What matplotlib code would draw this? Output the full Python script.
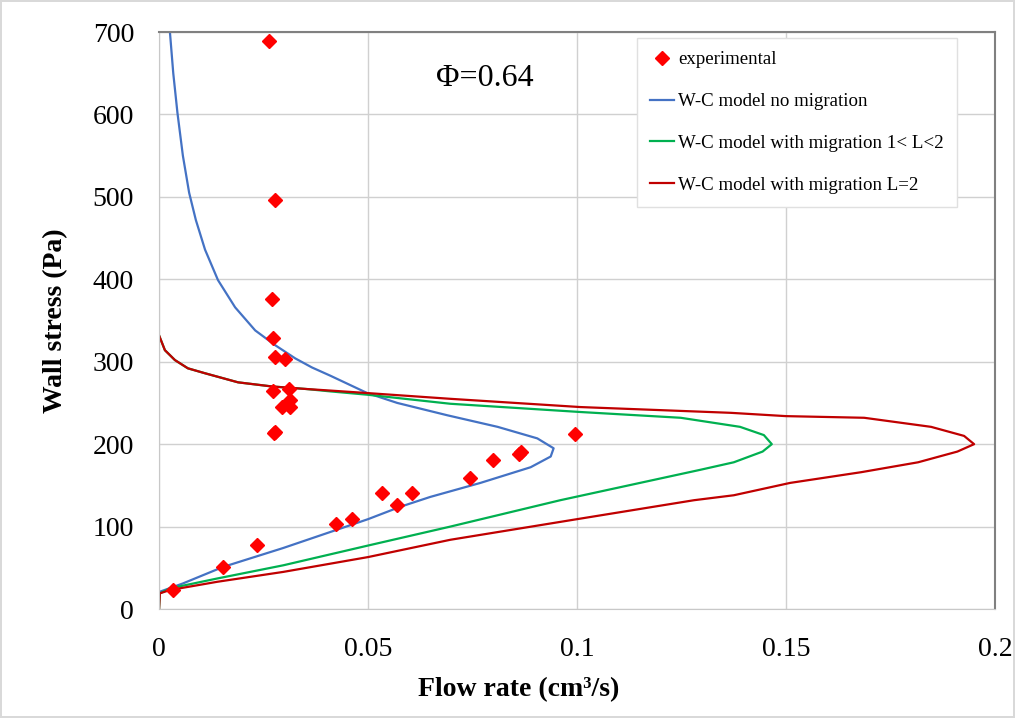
#! /usr/bin/python
#import libraries
from matplotlib import pyplot as plt
import numpy as np

#experimental points (flow rate cm3/s, wall stress Pa)
exp_q = [0.0263, 0.0278, 0.0271, 0.0273, 0.0278, 0.0302, 0.0273, 0.0311, 0.0314, 0.0295, 0.0314,
         0.0274, 0.0278, 0.0994, 0.0862, 0.0866, 0.0798, 0.0745, 0.0534, 0.0604, 0.0570, 0.0424,
         0.0462, 0.0235, 0.0153, 0.0034]
exp_tau = [689, 496, 376, 329, 306, 303, 265, 267, 254, 245, 245,
           214, 215, 212, 188, 190, 181, 159, 141, 141, 126, 103,
           109, 78, 51, 23]

#W-C model no migration
blue_q = [0.0026, 0.0034, 0.0044, 0.0057, 0.0072, 0.0088, 0.0110, 0.0141, 0.0182, 0.0230, 0.0278,
          0.0326, 0.0366, 0.0410, 0.0498, 0.0570, 0.0690, 0.0810, 0.0905, 0.0944, 0.0937, 0.0889,
          0.0769, 0.0649, 0.0577, 0.0500, 0.0297, 0.0153, 0.0057, 0.0002]
blue_tau = [700, 650, 602, 550, 505, 472, 436, 399, 366, 338, 320,
            304, 293, 283, 262, 250, 235, 221, 207, 195, 185, 172,
            153, 136, 124, 109, 74, 51, 31, 21]

#W-C model with migration 1<L<2
green_q = [0.0, 0.0014, 0.0038, 0.0069, 0.0110, 0.0189, 0.0270, 0.0350, 0.0410, 0.0498, 0.0697,
           0.1008, 0.1248, 0.1390, 0.1447, 0.1466, 0.1444, 0.1375, 0.1296, 0.0960, 0.0697, 0.0500,
           0.0297, 0.0139, 0.0026, 0.0002, 0.0]
green_tau = [332, 314, 302, 292, 286, 275, 270, 267, 264, 260, 249,
             239, 232, 221, 211, 200, 191, 178, 169, 132, 100, 77,
             53, 37, 25, 19, 0]

#W-C model with migration L=2
red_q = [0.0, 0.0014, 0.0038, 0.0069, 0.0110, 0.0189, 0.0270, 0.0350, 0.0410, 0.0498, 0.0697,
         0.1008, 0.1368, 0.1500, 0.1687, 0.1847, 0.1926, 0.1950, 0.1910, 0.1816, 0.1680, 0.1510,
         0.1375, 0.1280, 0.1000, 0.0697, 0.0500, 0.0297, 0.0139, 0.0026, 0.0002, 0.0]
red_tau = [332, 314, 302, 292, 286, 275, 270, 267, 265, 262, 255,
           245, 238, 234, 232, 221, 210, 200, 191, 178, 166, 153,
           138, 132, 109, 84, 63, 45, 33, 23, 19, 0]

serif = 'Liberation Serif'

fig = plt.figure(figsize=(10.15, 7.18), dpi=100)
fig.patch.set_edgecolor('#d9d9d9')
fig.patch.set_linewidth(1.5)
ax = fig.add_axes([0.1567, 0.1518, 0.8236, 0.8036])

ax.plot(exp_q, exp_tau, linestyle='none', marker='D', markersize=7, color='#ff0000', label='experimental', zorder=5)
ax.plot(blue_q, blue_tau, color='#4472c4', linewidth=1.6, label='W-C model no migration')
ax.plot(green_q, green_tau, color='#00b050', linewidth=1.6, label='W-C model with migration 1< L<2')
ax.plot(red_q, red_tau, color='#c00000', linewidth=1.6, label='W-C model with migration L=2')

ax.set_xlim(0, 0.2)
ax.set_ylim(0, 700)
ax.set_xticks([0, 0.05, 0.1, 0.15, 0.2])
ax.set_xticklabels(['0', '0.05', '0.1', '0.15', '0.2'])
ax.set_yticks(np.arange(0, 701, 100))
ax.grid(True, color='#d0d0d0', linewidth=1.0)
ax.set_axisbelow(True)
ax.tick_params(length=0, labelsize=20)
ax.tick_params(axis='x', pad=20)
ax.tick_params(axis='y', pad=18)
for lab in ax.get_xticklabels() + ax.get_yticklabels():
    lab.set_family(serif)

#spines: light on left/bottom, darker top/right like the excel plot area
for s in ['left', 'bottom']:
    ax.spines[s].set_color('#c8c8c8')
for s in ['top', 'right']:
    ax.spines[s].set_color('#808080')
    ax.spines[s].set_linewidth(1.5)

ax.set_xlabel('Flow rate (cm³/s)', family=serif, fontsize=20, fontweight='bold', va='center')
ax.xaxis.set_label_coords(0.43, -0.140)
ax.set_ylabel('Wall stress (Pa)', family=serif, fontsize=20, fontweight='bold', labelpad=18)

ax.text(0.078, 644, 'Φ=0.64', family=serif, fontsize=23, ha='center', va='center')

leg = ax.legend(loc='upper right', bbox_to_anchor=(0.9545, 0.9896), borderaxespad=0,
                prop={'family': serif, 'size': 13.6},
                handlelength=1.3, handletextpad=0.2, labelspacing=1.3, borderpad=0.7,
                fancybox=False, framealpha=1, edgecolor='#e0e0e0')
leg.get_frame().set_linewidth(1.0)

plt.savefig('out.png', dpi=100, edgecolor=fig.get_edgecolor())
